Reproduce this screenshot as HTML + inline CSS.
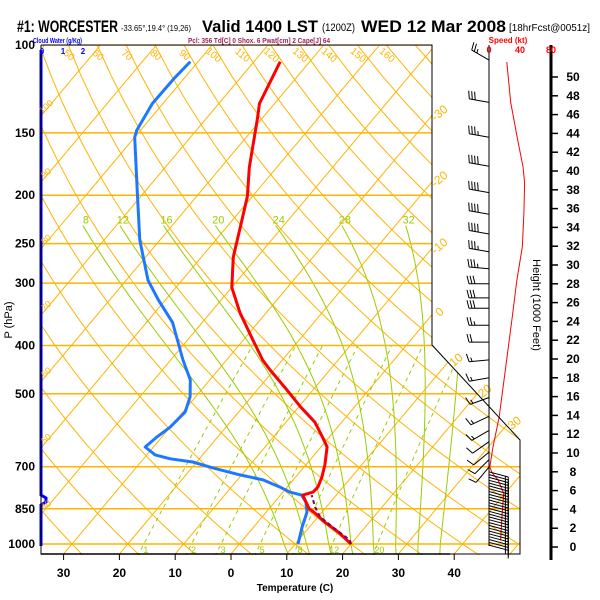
<!DOCTYPE html>
<html><head><meta charset="utf-8"><style>
html,body{margin:0;padding:0;background:#fff;}
svg{display:block;font-family:"Liberation Sans",sans-serif;}
</style></head><body>
<svg id="chart" width="600" height="600" viewBox="0 0 600 600" xmlns="http://www.w3.org/2000/svg">
<defs><clipPath id="plotclip"><polygon points="41,45 432,45 432,345 520,440 520,555 41,555"/></clipPath></defs>
<rect width="600" height="600" fill="#fff"/>
<g>
<text x="17" y="32" font-size="17" font-weight="bold" textLength="101" lengthAdjust="spacingAndGlyphs">#1: WORCESTER</text>
<text x="121" y="31" font-size="8" textLength="70" lengthAdjust="spacingAndGlyphs">-33.65°,19.4° (19,26)</text>
<text x="202" y="32" font-size="17" font-weight="bold" textLength="116" lengthAdjust="spacingAndGlyphs">Valid 1400 LST</text>
<text x="322" y="31" font-size="11" textLength="33" lengthAdjust="spacingAndGlyphs">(1200Z)</text>
<text x="361" y="32" font-size="17" font-weight="bold" textLength="145" lengthAdjust="spacingAndGlyphs">WED 12 Mar 2008</text>
<text x="509" y="31" font-size="10" textLength="81" lengthAdjust="spacingAndGlyphs">[18hrFcst@0051z]</text>
</g>
<text x="33" y="43" font-size="7" font-weight="bold" fill="#0000ff" textLength="49" lengthAdjust="spacingAndGlyphs">Cloud Water (g/Kg)</text>
<text x="188" y="43" font-size="7" font-weight="bold" fill="#a0205a" textLength="142" lengthAdjust="spacingAndGlyphs">Pcl: 356 Td[C] 0 Shox. 6 Pwat[cm] 2 Cape[J] 64</text>
<text x="508" y="43" font-size="8" font-weight="bold" fill="#ff0000" text-anchor="middle">Speed (kt)</text>
<g id="grid" clip-path="url(#plotclip)"></g>
<g id="series"></g>
<g id="axes"></g>
</svg>
<script>
// ---- data ----
const pressureTicks = [100,150,200,250,300,400,500,700,850,1000];
const tempTicks = [-30,-20,-10,0,10,20,30,40];
const tempP = [1000,946,904,867,850,798,787,769,734,694,639,613,570,531,491,448,428,390,344,306,266,235,201,176,141,131,108];
const tempT = [20.0,15.9,12.0,8.9,7.2,4.0,5.4,5.5,4.7,3.4,1.1,-1.0,-4.8,-9.7,-14.7,-20.7,-23.5,-28.3,-34.7,-40.0,-44.3,-47.2,-50.9,-54.9,-60.7,-62.7,-65.3];
const dewP = [1000,925,863,824,798,787,769,744,727,704,685,675,663,639,610,583,544,507,469,428,360,324,296,246,201,153,148,131,117,108];
const dewT = [10.5,8.7,7.3,5.6,3.8,1.2,-1.3,-5.4,-10.3,-16.2,-20.7,-25.2,-28.5,-31.5,-30.9,-30.0,-29.6,-31.0,-33.5,-37.8,-45.3,-51.3,-56.1,-63.6,-70.6,-80.0,-80.7,-81.9,-81.8,-81.4];
const parcelP = [1000,982,925,883,843,798];
const parcelT = [20.0,19.2,14.2,10.4,8.0,5.6];
const mixRatios = [1,2,3,5,8,12,20];
const moistThetaW = [8,12,16,20,24,28,32,36];
const heightTicks = [0,2,4,6,8,10,12,14,16,18,20,22,24,26,28,30,32,34,36,38,40,42,44,46,48,50];
const speedTicks = [0,40,80];
const speedH = [0.7,3.6,5.7,7.1,7.9,8.5,10.6,13.8,18.8,24.5,28.4,31.9,35.5,38.7,40.4,43.3,47.3,51.6];
const speedKt = [15,17,19,12,4,1,5,13,21,30,36,43,45,46,44,37,28,23];
const barbH = [51.8,47.3,43.6,40.5,37.7,35.4,33.3,31.4,29.6,28.0,26.5,25.4,23.6,21.8,19.9,18.0,15.9,13.9,12.4,11.2,10.1,9.3,8.5,8.0,7.7,7.4,7.1,6.8,6.5,6.2,5.9,5.6,5.3,5.0,4.7,4.4,4.1,3.8,3.5,3.2,2.9,2.6,2.3,2.0,1.7,1.4,1.1,0.8,0.5,0.2];
const barbDir = [300,280,280,280,280,280,280,280,275,270,270,270,270,270,265,260,250,245,240,235,230,225,220,105,105,105,105,105,105,105,105,105,105,105,105,105,105,105,105,105,105,105,105,105,105,105,105,105,105,105];
const barbKt = [25,30,35,40,40,40,40,35,35,30,30,30,25,20,15,15,15,15,15,10,10,10,10,15,15,15,15,15,15,15,15,15,15,15,15,15,15,15,15,15,15,15,15,15,15,15,15,15,15,15];

// ---- axis functions ----
const NS='http://www.w3.org/2000/svg';
function Y(p){return 544-216.7*Math.log(1000/p);}
function X(T,p){return 231+5.58*T+0.84*(554-Y(p));}
function HY(h){return 547-9.4*h;}
function SX(s){return 489+s*62/80;}
function mk(tag,attrs,parent){const e=document.createElementNS(NS,tag);for(const k in attrs)e.setAttribute(k,attrs[k]);parent.appendChild(e);return e;}
const grid=document.getElementById('grid'),series=document.getElementById('series'),axes=document.getElementById('axes');
const OR='#ffb400',GR='#99cc00';
function pathFrom(pts){return pts.map((q,i)=>(i?'L':'M')+q[0].toFixed(1)+','+q[1].toFixed(1)).join('');}

// isotherms
for(let T=-150;T<=60;T+=10){
  const e=mk('line',{x1:X(T,1060),y1:Y(1060),x2:X(T,95),y2:Y(95),stroke:OR,'stroke-width':1},grid);
  
  
}
// dry adiabats
for(let th=-60;th<=180;th+=10){
  const pts=[];for(let p=1060;p>=95;p-=15){const T=(th+273.15)*Math.pow(p/1000,0.2857)-273.15;pts.push([X(T,p),Y(p)]);}
  const e=mk('path',{d:pathFrom(pts),fill:'none',stroke:OR,'stroke-width':1},grid);
  
  
}
// moist adiabats
function es(Tc){return 6.112*Math.exp(17.67*Tc/(Tc+243.5));}
for(const tw of moistThetaW){
  let T=tw+273.15;
  let Td=T;for(let p=1000;p<=1060;p+=5){const Tc=Td-273.15;const rs=0.622*es(Tc)/(p-es(Tc));Td+=5*(287*Td+2.5e6*rs)/(p*(1004+2.5e6*2.5e6*rs*0.622/(287*Td*Td)));}
  let pts2=[[X(Td-273.15,1060),Y(1060)]];
  for(let p=1000;p>=226;p-=5){const Tc=T-273.15;pts2.push([X(Tc,p),Y(p)]);const rs=0.622*es(Tc)/(p-es(Tc));T-=5*(287*T+2.5e6*rs)/(p*(1004+2.5e6*2.5e6*rs*0.622/(287*T*T)));}
  const e=mk('path',{d:pathFrom(pts2),fill:'none',stroke:GR,'stroke-width':1},grid);
  
  
  const last=pts2[pts2.length-1];
  if(last[0]<425){const t=mk('text',{x:last[0]+3,y:last[1]-2,'font-size':11,fill:GR,'text-anchor':'middle'},grid);t.textContent=tw;
  
  }
}
// mixing ratio lines
function tdFromW(w,p){const e=w*p/(622+w);const l=Math.log(e/6.112);return 243.5*l/(17.67-l);}
for(const w of mixRatios){
  const pts=[];for(let p=1060;p>=400;p-=20)pts.push([X(tdFromW(w,p),p),Y(p)]);
  const e=mk('path',{d:pathFrom(pts),fill:'none',stroke:GR,'stroke-width':1,'stroke-dasharray':'4,4'},grid);
  
  
  const t=mk('text',{x:X(tdFromW(w,1000),1000)+2,y:553,'font-size':9,fill:GR,'text-anchor':'middle'},grid);t.textContent=w;
  
  
}
// pressure lines
for(const p of pressureTicks){
  const e=mk('line',{x1:41,y1:Y(p),x2:520,y2:Y(p),stroke:OR,'stroke-width':1.5},grid);
  
  
}
// theta labels at top
for(let th=50;th<=160;th+=10){
  const T=(th+273.15)*Math.pow(0.1,0.2857)-273.15;
  const x=X(T,100);
  const t=mk('text',{x:x,y:58,'font-size':10,fill:OR,'text-anchor':'middle',transform:`rotate(40 ${x} 56)`},grid);t.textContent=th;
  
  
}
// isotherm labels right edge
for(let T=-30;T<=30;T+=10){
  let y=45;for(;y<554;y++){const p=1000*Math.exp(-(544-y)/216.7);const bx=y<345?432:432+(y-345)*88/95;if(X(T,p)<=bx)break;}
  const x=(y<345?432:432+(y-345)*88/95)+10;
  const t=mk('text',{x:x,y:y,'font-size':12,fill:OR,'text-anchor':'middle',transform:`rotate(-40 ${x} ${y})`},axes);t.textContent=T;
  
  
}
// isotherm labels left edge
for(let T=-40;T>=-100;T-=10){
  const y=554-(47-231-5.58*T)/0.84; if(y<50||y>540)continue;
  const t=mk('text',{x:48,y:y,'font-size':9,fill:OR,'text-anchor':'middle',transform:`rotate(-40 48 ${y})`},axes);t.textContent=-T;
  
  
}

// frame
mk('polyline',{points:'41,45 432,45 432,345 520,440 520,554 41,554 41,45',fill:'none',stroke:'#000','stroke-width':1},axes);
mk('line',{x1:41,y1:554,x2:450,y2:554,stroke:'#000','stroke-width':1.5},axes);
mk('line',{x1:489,y1:45,x2:489,y2:546,stroke:'#000','stroke-width':1},axes);
// cloud water line
const cw=mk('path',{d:'M41,50 L41,495 L46,498 L46,502 L41,505 L41,546',fill:'none',stroke:'#0000ff','stroke-width':3},series);


[['0',42],['1',63],['2',83]].forEach(([s,x])=>{const t=mk('text',{x:x,y:54,'font-size':8,'font-weight':'bold',fill:'#0000ff','text-anchor':'middle'},axes);t.textContent=s;

});

// pressure labels
for(const p of pressureTicks){
  const t=mk('text',{x:35,y:Y(p)+4,'font-size':12,'font-weight':'bold','text-anchor':'end'},axes);t.textContent=p;
  
  
}
const pt=mk('text',{x:12,y:320,'font-size':11,'text-anchor':'middle',transform:'rotate(-90 12 320)'},axes);pt.textContent='P (hPa)';


// temperature labels
for(const T of tempTicks){
  const x=231+5.58*T;
  mk('line',{x1:x,y1:554,x2:x,y2:560,stroke:'#000','stroke-width':1},axes);
  const t=mk('text',{x:x,y:577,'font-size':12,'font-weight':'bold','text-anchor':'middle'},axes);t.textContent=Math.abs(T);
  
  
}
const tt=mk('text',{x:295,y:591,'font-size':10,'font-weight':'bold','text-anchor':'middle'},axes);tt.textContent='Temperature (C)';



// series
function line(P,T,attrs,name){
  const e=mk('path',Object.assign({d:pathFrom(P.map((p,i)=>[X(T[i],p),Y(p)])),fill:'none'},attrs),series);
  
  
}
line(dewP,dewT,{stroke:'#1e78ff','stroke-width':3,'stroke-linejoin':'round'},'dewpoint-line');
line(tempP,tempT,{stroke:'#ff0000','stroke-width':3,'stroke-linejoin':'round'},'temperature-line');
line(parcelP,parcelT,{stroke:'#800060','stroke-width':2,'stroke-dasharray':'4,3'},'parcel-line');

// height axis
mk('line',{x1:551,y1:45,x2:551,y2:560,stroke:'#000','stroke-width':3},axes);
for(const h of heightTicks){
  mk('line',{x1:551,y1:HY(h),x2:558,y2:HY(h),stroke:'#000','stroke-width':1.5},axes);
  const t=mk('text',{x:573,y:HY(h)+4,'font-size':12,'font-weight':'bold','text-anchor':'middle'},axes);t.textContent=h;
  
  
}
const ht=mk('text',{x:533,y:305,'font-size':11,'text-anchor':'middle',transform:'rotate(90 533 305)'},axes);ht.textContent='Height (1000 Feet)';


for(const s of speedTicks){
  const t=mk('text',{x:SX(s),y:53,'font-size':9,'font-weight':'bold',fill:'#ff0000','text-anchor':'middle'},axes);t.textContent=s;
  
  
}
// speed profile
const sp=mk('path',{d:pathFrom(speedH.map((h,i)=>[SX(speedKt[i]),HY(h)])),fill:'none',stroke:'#ff0000','stroke-width':1},series);



// wind barbs
barbH.forEach((h,i)=>{
  const d=barbDir[i]*Math.PI/180,ux=Math.sin(d),uy=-Math.cos(d),vx=-uy,vy=ux;
  const x0=489,y0=HY(h),tx=x0+20*ux,ty=y0+20*uy;
  let s='M'+x0+','+y0.toFixed(1)+'L'+tx.toFixed(1)+','+ty.toFixed(1);
  let n10=Math.floor(barbKt[i]/10),n5=Math.round((barbKt[i]%10)/5),k=0;
  for(let j=0;j<n10;j++,k++){const bx=tx-k*3*ux,by=ty-k*3*uy;s+='M'+bx.toFixed(1)+','+by.toFixed(1)+'L'+(bx+8*vx+2*ux).toFixed(1)+','+(by+8*vy+2*uy).toFixed(1);}
  for(let j=0;j<n5;j++,k++){const bx=tx-k*3*ux,by=ty-k*3*uy;s+='M'+bx.toFixed(1)+','+by.toFixed(1)+'L'+(bx+4*vx+1*ux).toFixed(1)+','+(by+4*vy+1*uy).toFixed(1);}
  const e=mk('path',{d:s,fill:'none',stroke:'#000','stroke-width':1},series);
  
  
});
</script>
</body></html>
